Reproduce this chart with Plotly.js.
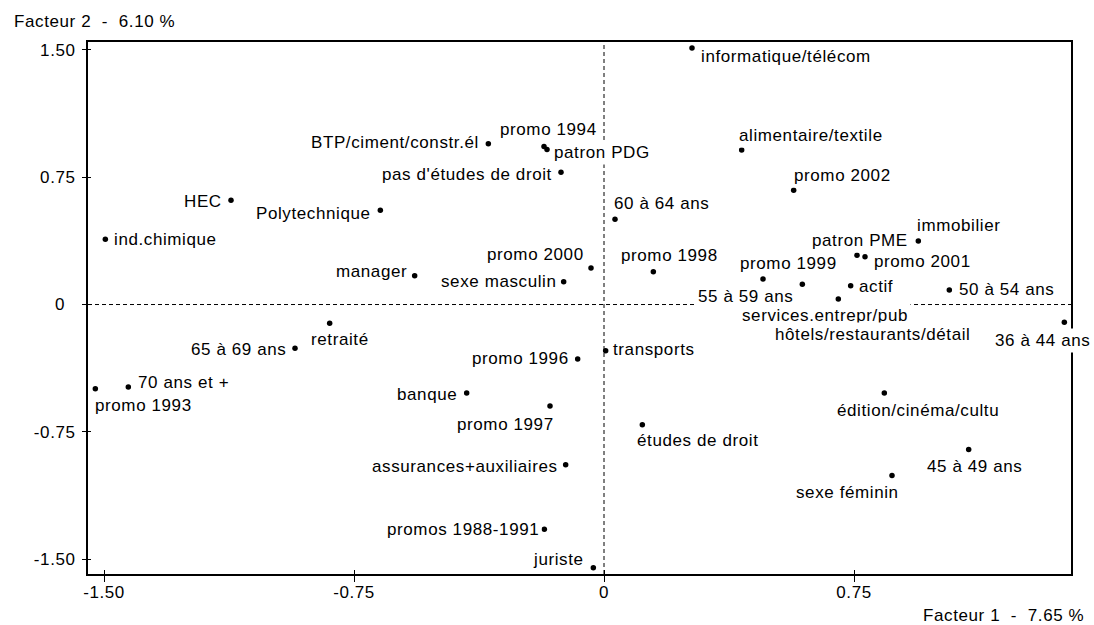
<!DOCTYPE html>
<html>
<head>
<meta charset="utf-8">
<script src="https://cdn.plot.ly/plotly-3.0.1.min.js"></script>
<style>
  html, body { margin: 0; padding: 0; background: #fff; }
  svg text { letter-spacing: 0.6px; }
</style>
</head>
<body>
<div id="chart" style="width:1094px;height:625px;"></div>
<script>
// ---- data ----
const labels = [
  "informatique/télécom", "HEC", "Polytechnique", "ind.chimique", "retraité",
  "65 à 69 ans", "70 ans et +", "promo 1993", "BTP/ciment/constr.él", "promo 1994",
  "patron PDG", "pas d'études de droit", "promo 2000", "manager", "sexe masculin",
  "alimentaire/textile", "promo 2002", "60 à 64 ans", "immobilier", "patron PME",
  "promo 2001", "promo 1998", "promo 1999", "55 à 59 ans", "actif",
  "services.entrepr/pub", "50 à 54 ans", "promo 1996", "transports", "banque",
  "promo 1997", "assurances+auxiliaires", "promos 1988-1991", "juriste", "36 à 44 ans",
  "hôtels/restaurants/détail", "édition/cinéma/cultu", "études de droit", "45 à 49 ans", "sexe féminin"
];
const facteur1 = [
  0.264, -1.119, -0.671, -1.496, -0.823,
  -0.927, -1.427, -1.526, -0.347, -0.180,
  -0.171, -0.129, -0.039, -0.568, -0.121,
  0.413, 0.569, 0.033, 0.943, 0.759,
  0.783, 0.148, 0.477, 0.595, 0.740,
  0.703, 1.036, -0.079, 0.005, -0.412,
  -0.162, -0.115, -0.179, -0.032, 1.381,
  0.970, 0.841, 0.115, 1.094, 0.864
];
const facteur2 = [
  1.512, 0.614, 0.555, 0.384, -0.111,
  -0.258, -0.486, -0.496, 0.948, 0.931,
  0.914, 0.779, 0.215, 0.170, 0.134,
  0.911, 0.673, 0.502, 0.374, 0.290,
  0.282, 0.193, 0.150, 0.119, 0.111,
  0.032, 0.085, -0.321, -0.272, -0.522,
  -0.598, -0.944, -1.325, -1.551, -0.105,
  -0.127, -0.522, -0.708, -0.854, -1.007
];
const xTickVals = [-1.5, -0.75, 0, 0.75];
const xTickText = ["-1.50", "-0.75", "0", "0.75"];
const yTickVals = [-1.5, -0.75, 0, 0.75, 1.5];
const yTickText = ["-1.50", "-0.75", "0\u00a0\u00a0", "0.75", "1.50"];
const xTitle = "Facteur 1\u00a0\u00a0-\u00a0\u00a07.65 %";
const yTitle = "Facteur 2\u00a0\u00a0-\u00a0\u00a06.10 %";

// ---- label placement (anchor, x shift px, y shift px) ----
const placement = [
  ["left", 6, -9], ["right", -6.3, -1], ["right", -6.6, -2.7], ["left", 6, 0.3], ["center", 10.8, -16.4],
  ["right", -5.7, -0.7], ["left", 6.4, 4], ["left", -3, -17], ["right", -6.3, 0.7], ["center", 4.8, 17.5],
  ["left", 4.3, -2.8], ["right", -6.3, -1.7], ["right", -4, 13.3], ["right", -4.4, 4], ["right", -3.4, 0.4],
  ["left", -5.4, 14.3], ["left", -2.4, 14.6], ["left", -3.7, 16], ["left", -4.3, 15.3], ["center", 2.7, 15.3],
  ["left", 5.7, -4.6], ["center", 16.4, 16], ["center", 25.7, 15.7], ["right", -6.3, -12], ["left", 5.6, -0.6],
  ["center", -13.8, -16], ["left", 7, 1], ["right", -5.7, 0], ["left", 4, 0.7], ["right", -6.4, -1],
  ["right", 7, -18], ["right", -4.4, -1.6], ["right", -2.3, 0.3], ["right", -6.3, 8.7], ["right", 28.4, -17.7],
  ["center", -54.8, -8], ["center", 34, -17.7], ["left", -8.3, -16], ["center", 5.5, -17], ["right", 10, -17]
];

const W = 1094, H = 625;
const M = {l: 88, r: 23, t: 42, b: 51};
const PW = W - M.l - M.r, PH = H - M.t - M.b;
const xRange = [-1.548, 1.401];
const yRange = [-1.588, 1.547];
const FONT = "Liberation Sans, Arial, sans-serif";

const annotations = labels.map((t, i) => ({
  x: facteur1[i], y: facteur2[i], xref: "x", yref: "y",
  text: t, showarrow: false,
  xanchor: placement[i][0], yanchor: "middle",
  xshift: placement[i][1], yshift: placement[i][2],
  bgcolor: "#ffffff", borderpad: 2,
  font: {family: FONT, size: 17, color: "#000"}
}));
annotations.push({
  xref: "paper", yref: "paper", x: (12 - M.l) / PW, y: (H - M.b - 22) / PH,
  xanchor: "left", yanchor: "middle", showarrow: false, text: yTitle,
  font: {family: FONT, size: 17, color: "#000"}
});
annotations.push({
  xref: "paper", yref: "paper", x: (1086 - M.l) / PW, y: (H - M.b - 615) / PH,
  xanchor: "right", yanchor: "middle", showarrow: false, text: xTitle,
  font: {family: FONT, size: 17, color: "#000"}
});

const traces = [
  {
    type: "scatter", mode: "markers", x: facteur1, y: facteur2, text: labels,
    marker: {size: 5.5, color: "#000"}, hoverinfo: "text", cliponaxis: false
  },
  { type: "scatter", mode: "markers", x: [], y: [], xaxis: "x2", yaxis: "y2", hoverinfo: "skip" },
  { type: "scatter", mode: "markers", x: [], y: [], xaxis: "x3", yaxis: "y2", hoverinfo: "skip" }
];

const axisCommon = {
  showgrid: false, zeroline: false, tickcolor: "#000", tickwidth: 1,
  tickfont: {family: FONT, size: 17, color: "#000"}, tickmode: "array"
};

const layout = {
  width: W, height: H,
  margin: {l: M.l, r: M.r, t: M.t, b: M.b, pad: 0},
  paper_bgcolor: "#fff", plot_bgcolor: "#fff",
  showlegend: false,
  font: {family: FONT, size: 17, color: "#000"},
  xaxis: Object.assign({}, axisCommon, {
    range: xRange, tickvals: xTickVals, ticktext: xTickText,
    ticks: "", showline: true, linecolor: "#000", linewidth: 2, mirror: true,
    ticklabelstandoff: 2
  }),
  yaxis: Object.assign({}, axisCommon, {
    range: yRange, tickvals: yTickVals, ticktext: yTickText,
    ticks: "outside", ticklen: 4, showline: true, linecolor: "#000", linewidth: 2, mirror: true,
    ticklabelstandoff: 3
  }),
  xaxis2: Object.assign({}, axisCommon, {
    overlaying: "x", anchor: "y", side: "bottom", range: xRange, tickvals: xTickVals,
    ticks: "inside", ticklen: 4, showticklabels: false, showline: false
  }),
  xaxis3: Object.assign({}, axisCommon, {
    overlaying: "x", anchor: "y", side: "bottom", range: xRange, tickvals: xTickVals,
    ticks: "outside", ticklen: 7, showticklabels: false, showline: false
  }),
  yaxis2: Object.assign({}, axisCommon, {
    overlaying: "y", anchor: "x", side: "left", range: yRange, tickvals: yTickVals,
    ticks: "inside", ticklen: 3, showticklabels: false, showline: false
  }),
  shapes: [
    {type: "line", xref: "x", yref: "paper", x0: 0, x1: 0, y0: 0, y1: 1, layer: "below",
     line: {color: "#000", width: 1, dash: "4px,3px"}},
    {type: "line", xref: "paper", yref: "y", x0: 0, x1: 1, y0: 0, y1: 0, layer: "below",
     line: {color: "#000", width: 1, dash: "4px,3px"}}
  ],
  annotations: annotations
};

Plotly.newPlot("chart", traces, layout, {displayModeBar: false, staticPlot: true});
</script>
</body>
</html>
